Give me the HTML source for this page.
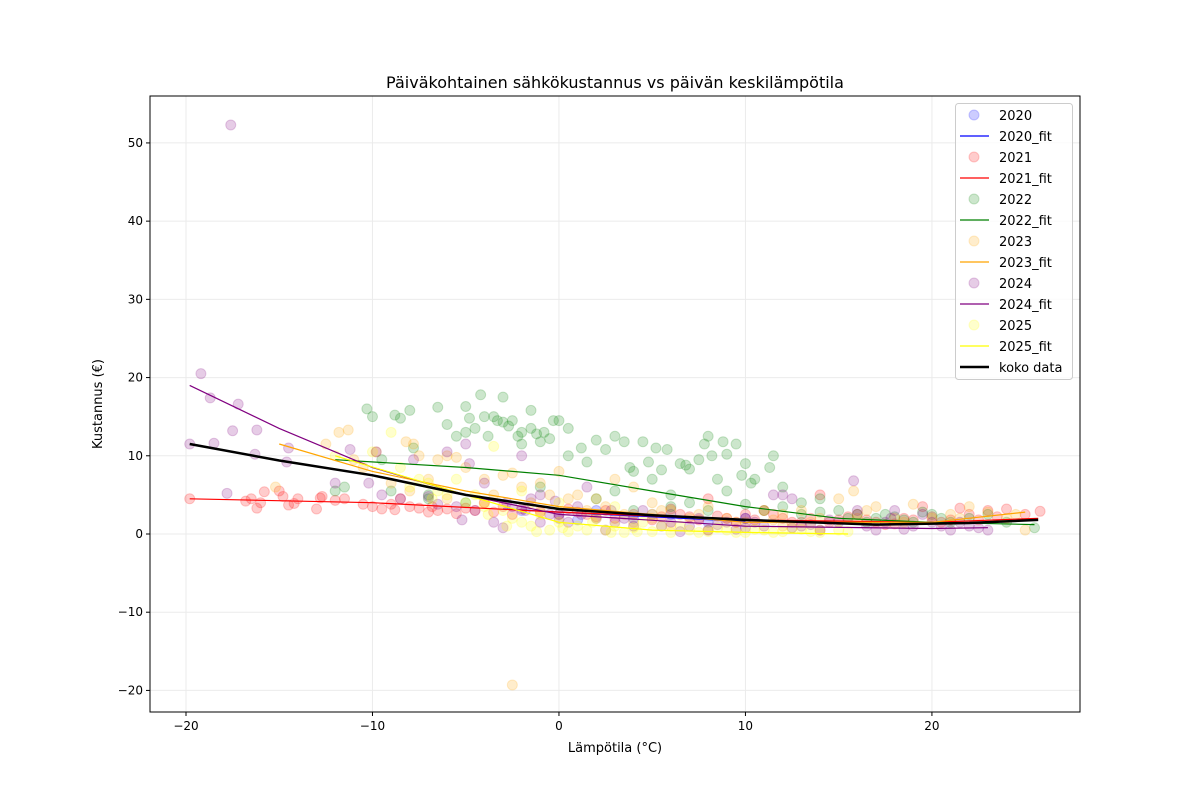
<!DOCTYPE html>
<html><head><meta charset="utf-8"><style>
body{margin:0;background:#fff;font-family:"Liberation Sans","DejaVu Sans",sans-serif;}
svg text{font-family:"DejaVu Sans","Liberation Sans",sans-serif;}
</style></head><body>
<svg id="chart" width="1200" height="800" xmlns="http://www.w3.org/2000/svg">
<rect width="1200" height="800" fill="#fff"/>
<text x="615" y="88" text-anchor="middle" font-size="16">Päiväkohtainen sähkökustannus vs päivän keskilämpötila</text>
<text x="615" y="752" text-anchor="middle" font-size="13">Lämpötila (°C)</text>
<text transform="translate(102,404) rotate(-90)" text-anchor="middle" font-size="13">Kustannus (€)</text>
<g id="grid"></g><g id="pts"></g><g id="fits"></g><g id="axes"></g><g id="legend"></g>
</svg>
<script>
const xTicks=[-20,-10,0,10,20];
const yTicks=[-20,-10,0,10,20,30,40,50];
const years=["2020","2021","2022","2023","2024","2025"];
const colors=["blue","red","green","orange","purple","yellow"];
const d2020=[0,2.5,2,3,4,2,6,2.5,8,1.5,10,2,-2,3,1,1.8];
const d2021=[-19.8,4.5,-16.5,4.5,-16.2,3.3,-16,4,-15.8,5.4,-16.8,4.2,-15,5.5,-14.8,4.8,-14.5,3.7,-14,4.5,-14.2,3.9,-13,3.2,-12.8,4.6,-12.7,4.8,-12,4.3,-11.5,4.5,-10.5,3.8,-10,3.5,-9.5,3.2,-9,3.8,-8.8,3.1,-8.5,4.5,-8,3.5,-7.5,3.3,-7,2.8,-6.5,3,-6,3.2,-5.5,2.6,-5,3.3,-4.5,3,-3.5,2.8,-3,3.5,-2,3.2,-1,2.8,0,2.5,1,2.8,2,2.2,3,2,5,1.8,6,3.2,7,2.2,8,4.5,9,2,10,2.5,11,3,12,2,13,1.5,14,5,15,1.8,16,2.5,17,1.5,18,1.3,19,1.8,19.5,3.5,20,2.2,21,1.8,21.5,3.3,22,2.5,23,3,24,3.2,25,2.5,25.8,2.9,-6.8,3.5,-4,4,-2.5,2.5,0.5,3.2,1.5,2.5,2.5,3,4,2.5,5.5,2.2,6.5,2.5,7.5,1.8,8.5,2.3,9.5,1.5,10.5,1.8,11.5,2.5,12.5,1.5,13.5,2,14.5,1.5,15.5,2.2,16.5,1.8,17.5,1.2,18.5,2,20.5,1.5,22.5,1.8,23.5,2.2];
const d2022=[-12,5.5,-11.5,6,-10.3,16,-10,15,-9.5,9.5,-9,5.5,-8.8,15.2,-8.5,14.8,-8,15.8,-7.8,11,-7,5,-6.5,16.2,-6,14,-5.5,12.5,-5,13,-5,16.3,-4.8,14.8,-4.5,13.5,-4.2,17.8,-4,15,-3.8,12.5,-3.5,15,-3.3,14.5,-3,17.5,-3,14.3,-2.7,13.8,-2.5,14.5,-2.2,12.5,-2,11.5,-2,13,-1.5,15.8,-1.5,13.5,-1.2,12.8,-1,11.8,-0.8,13,-0.5,12.2,-0.3,14.5,0,14.5,0.5,13.5,0.5,10,1.2,11,1.5,9.2,2,12,2.5,10.8,3,12.5,3.5,11.8,3.8,8.5,4,8,4.5,11.8,4.8,9.2,5,7,5.2,11,5.5,8.2,5.8,10.8,6.5,9,6.8,8.8,7,8.3,7.5,9.5,7.8,11.5,8,12.5,8.2,10,8.5,7,8.8,11.8,9,10.2,9.5,11.5,9.8,7.5,10,9,10.3,6.5,10.5,7,11.3,8.5,11.5,10,12,6,13,4,14,4.5,15,3,16,2.5,17,2,18,2.2,19,1.5,20,2.5,22,2,24,1.5,25.5,0.8,-7,4.5,-5,4,2,4.5,6,5,9,5.5,8,3,11,3,3,5.5,-1,6,7,4,12,3.5,4,3,6,3.5,10,3.8,13,2.5,14,2.8,15.5,2,16.5,1.5,17.5,2.5,18.5,1.8,19.5,2.8,20.5,2,21,1.5,23,2.5];
const d2023=[-15.2,6,-12.5,11.5,-11.8,13,-11.3,13.3,-11,9.5,-10.5,8.5,-9.8,10.5,-8.2,11.8,-7.8,11.5,-7.5,10,-6.5,9.5,-6,10,-5.5,9.8,-5,8.5,-4,7,-3,7.5,-2.5,7.8,-2.5,-19.3,-2,6,-1,6.5,-0.5,5,0,8,1,5,2,4.5,3,7,4,6,5,4,6,3,7,2,8,3.5,9,2,10,1.5,11,3,12,2.5,13,3,14,2,15,4.5,15.8,5.5,16,2,17,3.5,18,2,19,3.8,20,2,21,2.5,22,3.5,23,2.8,24,2,25,0.5,-9,6.5,-8,5.5,-6,4.5,-4,4,1.5,3,4,1.5,6,1,8,0.5,12,1,14,0.5,-1,3,5,2,-7,7,-3.5,5,-1.5,4,0.5,4.5,2.5,3.5,3.5,2.5,5.5,3,7.5,2.5,9.5,1.5,11.5,1.8,13.5,1.5,16.5,3,18.5,1.5,21.5,2,24.5,2.5];
const d2024=[-19.8,11.5,-19.2,20.5,-18.7,17.4,-18.5,11.6,-17.6,52.3,-17.8,5.2,-17.5,13.2,-17.2,16.6,-16.2,13.3,-16.3,10.2,-14.5,11,-14.6,9.2,-12,6.5,-11.2,10.8,-10.2,6.5,-9.8,10.5,-9.5,5,-8.5,4.5,-7.8,9.5,-7,4.8,-6,10.5,-6.5,3.8,-5.5,3.5,-5.2,1.8,-5,11.5,-4.8,9,-4.5,3,-4,6.5,-3.5,1.5,-3,0.8,-2.5,3.5,-2,10,-1.5,4.5,-1,5,-0.5,2.5,0,2,0.5,1.5,1,3.5,1.5,6,2,2,3,1.5,4,1,4.5,3,5,2.5,6,1.5,7,1,8,0.5,9,1.5,10,2,11,1,11.5,5,12,5,12.5,4.5,13,1,14,0.5,15,1.5,15.8,6.8,16,3,17,0.5,17.5,1.5,18,3,19,1,19.5,2.5,20,1.5,21,0.5,22,1,23,0.5,-1,1.5,2.5,0.5,6.5,0.3,10,0.8,13.5,1.2,-2.8,4,-1.8,3,-0.2,4.2,1.2,2.5,2.8,3,3.5,2,5.5,1,7.5,2,8.5,1.2,9.5,0.6,10.5,1.5,12.5,0.8,14.5,1.8,16.5,1,17.8,2,18.5,0.6,20.5,1,21.5,1.5,22.5,0.8];
const d2025=[-12,10,-10,10.5,-9,13,-8.5,8.5,-7.5,7,-7,6.5,-6.5,5.5,-6,5,-5.5,7,-5,4,-4.5,5,-4,3.5,-3.5,11.2,-3,3,-2.5,2,-2,1.5,-1.5,1,-1,2.5,-0.5,0.5,0,1.5,0.5,0.3,1,1,1.5,0.5,2,2,2.5,0.5,3,1,3.5,0.2,4,0.8,4.5,1.5,5,0.3,5.5,1,6,0.2,7,0.5,8,0.3,9,0.5,10,0.2,11,0.5,12,0.3,13,0.6,14,0.2,15,0.5,15.5,0.3,-2,5.5,0,4,3,3.5,5,2.5,-8,6,-6.8,4.5,-3.8,2.5,-2.8,1,-1.2,0.3,0.2,0.8,1.8,1.5,2.8,0.2,4.2,0.3,6.5,1,7.5,0.2,8.5,0.8,9.5,0.2,10.5,0.6,11.5,0.2,12.5,0.8,13.5,0.3];
const f2020=[-3,3.2,0,2.8,5,2.2,10,1.6];
const f2021=[-19.8,4.5,-10,4.0,0,2.8,10,1.8,20,1.5,25.7,2.0];
const f2022=[-12,9.5,-5,8.5,0,7.5,5,5.5,10,3.5,15,2,20,1.5,25.5,1.2];
const f2023=[-15,11.5,-10,8,-5,5.5,0,3.5,10,1.5,20,1.5,25,2.8];
const f2024=[-19.8,19,-15,13.5,-10,8.5,-5,5,0,2.5,10,1,20,0.7,23,0.8];
const f2025=[-12,10,-5,5,0,1.5,5,0.5,10,0.2,15.5,0];
const fAll=[-19.8,11.5,-15,9.4,-10,7.5,-5,5,0,3.2,5,2.4,10,1.8,17,1.2,22,1.4,25.7,1.8];
const data=[d2020,d2021,d2022,d2023,d2024,d2025];
const fits=[f2020,f2021,f2022,f2023,f2024,f2025];
const NS="http://www.w3.org/2000/svg";
const L=150,R=1080,T=96,B=712,xmin=-21.93,xmax=27.94,ymin=-22.76,ymax=56.0;
const sx=v=>L+(v-xmin)/(xmax-xmin)*(R-L);
const sy=v=>B-(v-ymin)/(ymax-ymin)*(B-T);
function mk(tag,attrs,parent){const e=document.createElementNS(NS,tag);for(const k in attrs)e.setAttribute(k,attrs[k]);parent.appendChild(e);return e;}
const grid=document.getElementById('grid'),axes=document.getElementById('axes');
xTicks.forEach(t=>{
  const g=mk('line',{x1:sx(t),x2:sx(t),y1:T,y2:B,stroke:'#ebebeb','stroke-width':1},grid);
  
  
  mk('line',{x1:sx(t),x2:sx(t),y1:B,y2:B+4,stroke:'#000'},axes);
  const tx=mk('text',{x:sx(t),y:B+18,'text-anchor':'middle','font-size':12},axes);
  tx.textContent=(t<0?'\u2212'+(-t):t);
  
  
});
yTicks.forEach(t=>{
  const g=mk('line',{x1:L,x2:R,y1:sy(t),y2:sy(t),stroke:'#ebebeb','stroke-width':1},grid);
  
  
  mk('line',{x1:L-4,x2:L,y1:sy(t),y2:sy(t),stroke:'#000'},axes);
  const tx=mk('text',{x:L-7,y:sy(t)+4,'text-anchor':'end','font-size':12},axes);
  tx.textContent=(t<0?'\u2212'+(-t):t);
  
  
});
const frame=mk('rect',{x:L,y:T,width:R-L,height:B-T,fill:'none',stroke:'#000','stroke-width':1},axes);


const pts=document.getElementById('pts'),fg=document.getElementById('fits');
data.forEach((arr,i)=>{
  for(let j=0;j<arr.length;j+=2){
    const c=mk('circle',{cx:sx(arr[j]),cy:sy(arr[j+1]),r:5,fill:colors[i],'fill-opacity':0.2,stroke:colors[i],'stroke-opacity':0.2},pts);
    
    
  }
});
function line(arr,col,w,name){
  let d='';for(let j=0;j<arr.length;j+=2)d+=(j?'L':'M')+sx(arr[j]).toFixed(1)+','+sy(arr[j+1]).toFixed(1);
  const p=mk('path',{d:d,fill:'none',stroke:col,'stroke-width':w},fg);
  
  
}
fits.forEach((f,i)=>line(f,colors[i],1.2,'fit-line-'+years[i]));
line(fAll,'#000',2.5,'fit-line-all');
const lg=document.getElementById('legend');


mk('rect',{x:955.5,y:103.5,width:117,height:276,rx:3,fill:'#fff','fill-opacity':0.8,stroke:'#ccc'},lg);
const labels=[];years.forEach(y=>{labels.push(y);labels.push(y+'_fit');});labels.push('koko data');
labels.forEach((lab,k)=>{
  const y=115+k*21;
  const isFit=lab.endsWith('_fit')||lab==='koko data';
  const col=lab==='koko data'?'#000':colors[Math.floor(k/2)];
  if(isFit)mk('line',{x1:960,x2:989,y1:y,y2:y,stroke:col,'stroke-width':lab==='koko data'?2.5:1.2},lg);
  else mk('circle',{cx:974,cy:y,r:5,fill:col,'fill-opacity':0.2,stroke:col,'stroke-opacity':0.2},lg);
  const t=mk('text',{x:999,y:y+5,'font-size':13},lg);
  t.textContent=lab;
  
  
});
</script>
</body></html>
